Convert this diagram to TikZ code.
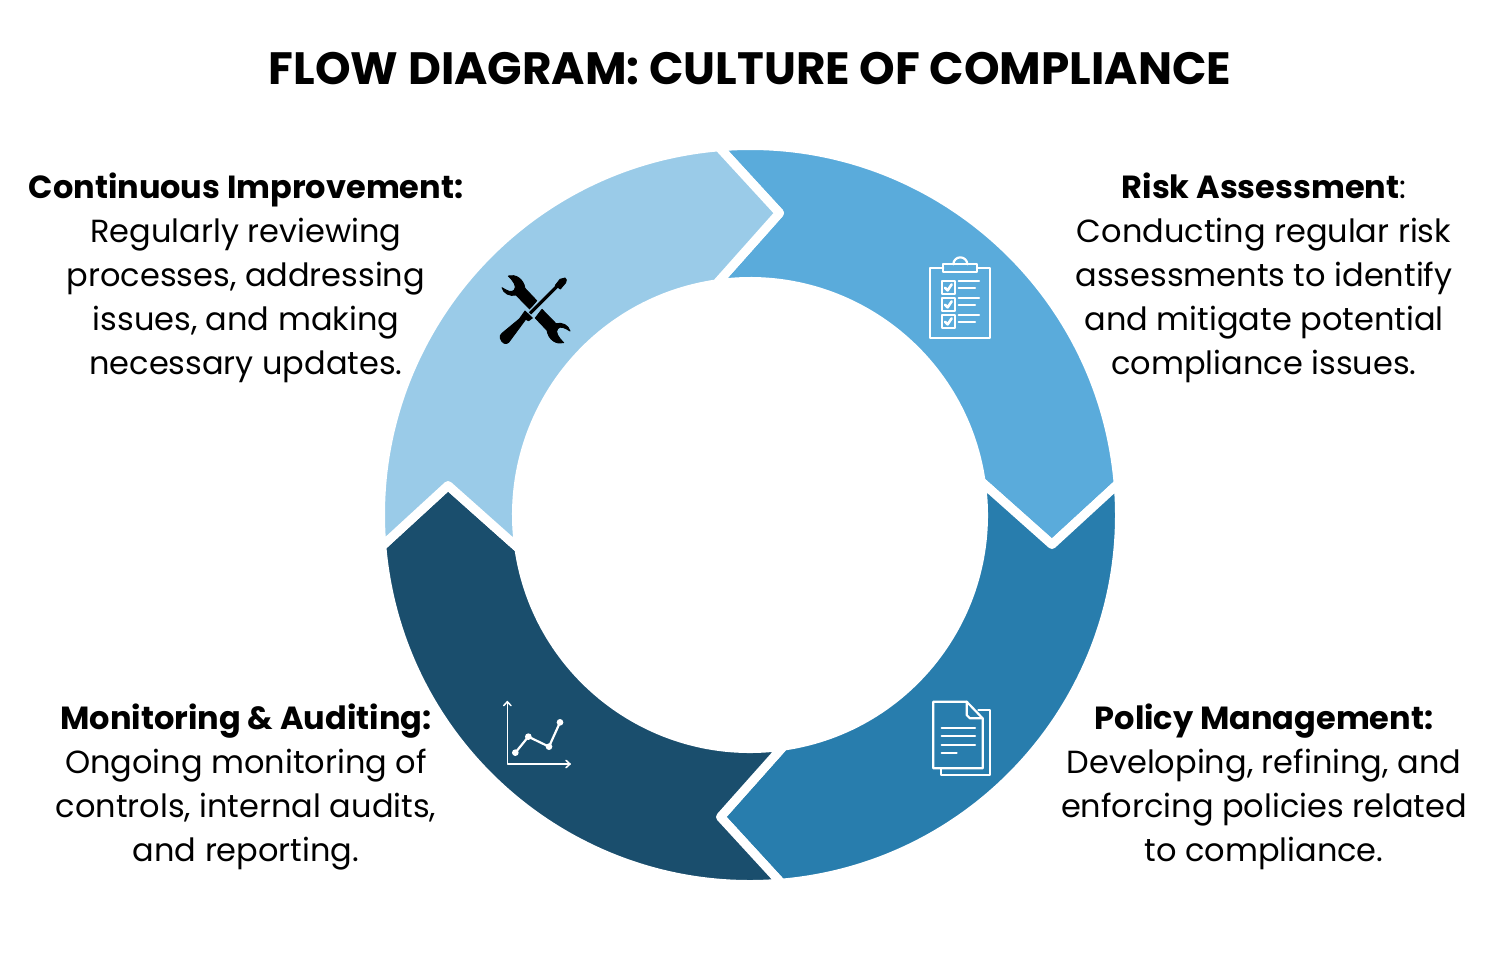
\documentclass[tikz,border=0pt]{standalone}
\usepackage{fontspec}
\setmainfont{Poppins}
\definecolor{riskblue}{HTML}{5AABDB}
\definecolor{policyblue}{HTML}{287DAD}
\definecolor{auditblue}{HTML}{1A4E6D}
\definecolor{improveblue}{HTML}{9ACBE8}
\tikzset{
	caption/.style={align=center, text=black, font=\fontsize{32}{44}\selectfont, inner sep=0pt},
	iconline/.style={draw=white, line width=2.2pt, line cap=round, line join=round},
	toolpart/.style={fill=black, draw=black, line width=0.9pt, line join=round},
}

\begin{document}
\begin{tikzpicture}[x=1pt, y=-1pt]
	\useasboundingbox (0,0) rectangle (1500,978);
	\node[inner sep=0pt, font=\fontsize{45.3}{50}\selectfont\bfseries] (title) at (750,68.5) {FLOW DIAGRAM: CULTURE OF COMPLIANCE};
	% ring
	\foreach \col/\rot in {riskblue/0, policyblue/-90, auditblue/-180, improveblue/-270}{
		\begin{scope}[shift={(750,515)}, y=1pt, rotate=\rot]
			\filldraw[fill=\col, draw=white, line width=9pt, line join=round]
				(94.86:369.5) arc[start angle=94.86, end angle=4.86, radius=369.5]
				-- (-5.58:303.4) -- (8.27:233.5)
				arc[start angle=8.27, end angle=98.27, radius=233.5]
				-- (84.42:303.4) -- cycle;
		\end{scope}
	}
	% tools
	\begin{scope}[shift={(480,250)}, scale=1/3]
		\filldraw[toolpart] (85,78) .. controls (105,72) and (130,85) .. (135,115) -- (170,152) -- (150,178) -- (108,135) .. controls (90,140) and (70,130) .. (66,113) .. controls (80,122) and (95,130) .. (103,120) .. controls (112,110) and (100,92) .. (85,78) -- cycle;
		\filldraw[toolpart] (251,278) .. controls (231,284) and (206,271) .. (201,241) -- (166,204) -- (186,178) -- (228,221) .. controls (246,216) and (266,226) .. (270,243) .. controls (256,234) and (241,226) .. (233,236) .. controls (224,246) and (236,264) .. (251,278) -- cycle;
		\draw[improveblue, line width=6pt] (150,190) -- (205,135);
		\draw[black, line width=3.2pt] (150,190) -- (235,105);
		\filldraw[toolpart] (226,106) -- (240,88) -- (255,84) .. controls (260,86) and (260,92) .. (257,98) -- (241,117) -- cycle;
		\filldraw[toolpart] (135,183) -- (157,204) -- (146,212) -- (137,208) -- (86,277) .. controls (78,285) and (66,280) .. (61,265) .. controls (59,258) and (62,254) .. (66,250) -- (118,207) -- (126,196) -- cycle;
	\end{scope}
	% clipboard
	\begin{scope}[shift={(910,245)}, scale=1/3]
		\draw[iconline] (100,70) -- (60,70) -- (60,280) -- (240,280) -- (240,70) -- (202,70);
		\draw[iconline] (100,58) rectangle (202,82);
		\draw[iconline] (130,58) arc[start angle=180, end angle=360, radius=21];
		\foreach \rowy in {108,159,210}{
			\draw[iconline] (95,\rowy) rectangle (135,\rowy+39);
			\draw[iconline, line width=2.6pt] (105,\rowy+20) -- (113,\rowy+28) -- (125,\rowy+10);
			\draw[iconline] (146,\rowy) -- (207,\rowy);
			\draw[iconline] (146,\rowy+20) -- (195,\rowy+20);
		}
	\end{scope}
	% document
	\begin{scope}[shift={(910,690)}, scale=1/3]
		\draw[iconline] (205,60) -- (240,60) -- (240,255) -- (92,255) -- (92,235);
		\draw[iconline, fill=policyblue] (70,35) -- (170,35) -- (218,85) -- (218,235) -- (70,235) -- cycle;
		\draw[iconline] (170,35) -- (170,75) -- (180,85) -- (218,85);
		\draw[iconline] (95,115) -- (195,115);
		\draw[iconline] (95,139) -- (195,139);
		\draw[iconline] (95,164) -- (195,164);
		\draw[iconline] (95,188) -- (140,188);
	\end{scope}
	% chart
	\begin{scope}[shift={(490,690)}, scale=1/3]
		\draw[iconline, line width=1.5pt] (52,35) -- (52,222) -- (240,222);
		\draw[iconline, line width=1.5pt] (41,47) -- (52,35) -- (63,47);
		\draw[iconline, line width=1.5pt] (228,211) -- (240,222) -- (228,233);
		\draw[iconline] (76,188) -- (115,140) -- (177,170) -- (210,97);
		\foreach \ptx/\pty in {76/188, 115/140, 177/170, 210/97}
			\fill[white] (\ptx,\pty) circle (10);
	\end{scope}
	\node[caption] (improve) at (246,277.5) {\textbf{Continuous Improvement:}\\Regularly reviewing\\processes, addressing\\issues, and making\\necessary updates.};
	\node[caption] (risk) at (1264,277.5) {\textbf{Risk Assessment}:\\Conducting regular risk\\assessments to identify\\and mitigate potential\\compliance issues.};
	\node[caption] (audit) at (246,786.5) {\textbf{Monitoring \& Auditing:}\\Ongoing monitoring of\\controls, internal audits,\\and reporting.};
	\node[caption] (policy) at (1264,786.5) {\textbf{Policy Management:}\\Developing, refining, and\\enforcing policies related\\to compliance.};
\end{tikzpicture}
\end{document}
